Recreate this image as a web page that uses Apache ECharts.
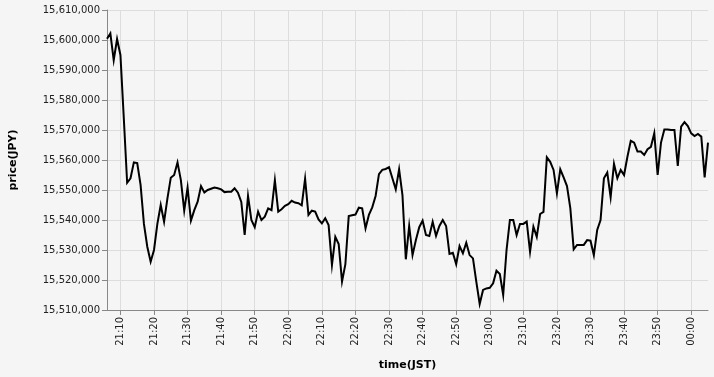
<!DOCTYPE html>
<html>
<head>
<meta charset="utf-8">
<script src="https://cdn.jsdelivr.net/npm/echarts@6/dist/echarts.min.js"></script>
<style>
html,body{margin:0;padding:0;background:#f5f5f5;}
#chart{width:714px;height:377px;}
</style>
</head>
<body>
<div id="chart"></div>
<script>
// one-minute samples starting at 21:06 JST
const startHour = 21;
const startMinute = 6;
const prices = [
15600400,15602200,15593300,15600300,15595000,15574000,15552400,15553900,15559200,15559000,
15551700,15538700,15531100,15526100,15530000,15538700,15545000,15539400,15547200,15554100,
15555000,15559200,15553300,15543100,15550800,15539800,15543300,15546100,15551300,15549200,
15550000,15550400,15550800,15550600,15550200,15549300,15549400,15549400,15550600,15549100,
15546000,15535000,15548000,15540000,15537600,15542800,15540000,15541100,15543900,15543300,
15553300,15542800,15543600,15544700,15545300,15546400,15545800,15545600,15544900,15553800,
15541700,15543100,15542800,15540200,15538900,15540600,15538300,15525000,15534400,15532000,
15519500,15525300,15541300,15541600,15541800,15544100,15543900,15537200,15541700,15544200,
15548000,15555300,15556700,15557000,15557600,15553900,15550200,15556900,15548300,15526900,
15538000,15528300,15533300,15537600,15539800,15535000,15534700,15539400,15534700,15538000,
15540000,15538000,15528700,15529100,15525300,15531300,15528900,15532400,15528300,15527200,
15519400,15512000,15516700,15517200,15517400,15518900,15523100,15522000,15515000,15530000,
15540000,15540000,15535000,15538700,15538700,15539500,15529400,15537800,15534400,15542000,
15542700,15560900,15559400,15556700,15548900,15556900,15554200,15551300,15543900,15530200,
15531700,15531700,15531700,15533300,15533100,15528300,15536700,15540000,15553900,15555800,
15547600,15558700,15553900,15556700,15555000,15561100,15566400,15565800,15562800,15562800,
15561700,15563600,15564400,15568900,15555000,15565800,15570200,15570200,15570000,15570000,
15558000,15571100,15572600,15571300,15568900,15568000,15568700,15567800,15554200,15565800
];
const times = [];
for (let i = 0; i < prices.length; i++) {
  const total = startHour * 60 + startMinute + i;
  const h = Math.floor(total / 60) % 24, m = total % 60;
  times.push(String(h).padStart(2, '0') + ':' + String(m).padStart(2, '0'));
}
const yMin = 15510000, yMax = 15610000, yStep = 10000;

const isTenMinute = (idx, val) => val.endsWith('0');
const chart = echarts.init(document.getElementById('chart'), null, {renderer: 'canvas'});
chart.setOption({
  animation: false,
  backgroundColor: '#f5f5f5',
  textStyle: {fontFamily: 'DejaVu Sans'},
  grid: {left: 107, right: 6, top: 10, bottom: 67, containLabel: false},
  xAxis: {
    type: 'category',
    data: times,
    boundaryGap: false,
    name: 'time(JST)',
    nameLocation: 'middle',
    nameGap: 50,
    nameTextStyle: {fontFamily: 'DejaVu Sans', fontWeight: 'bold', fontSize: 11, color: '#000'},
    axisLine: {lineStyle: {color: '#888', width: 1}},
    axisTick: {show: true, length: 5, interval: isTenMinute, lineStyle: {color: '#888'}},
    axisLabel: {interval: isTenMinute, rotate: 90, margin: 7, fontSize: 10, color: '#222', fontFamily: 'DejaVu Sans'},
    splitLine: {show: true, interval: isTenMinute, lineStyle: {color: '#dddddd', width: 1}}
  },
  yAxis: {
    type: 'value',
    min: yMin, max: yMax, interval: yStep,
    name: 'price(JPY)',
    nameLocation: 'middle',
    nameGap: 88,
    nameTextStyle: {fontFamily: 'DejaVu Sans', fontWeight: 'bold', fontSize: 11, color: '#000'},
    axisLine: {show: true, lineStyle: {color: '#888', width: 1}},
    axisTick: {show: true, length: 5, lineStyle: {color: '#888'}},
    axisLabel: {margin: 7, fontSize: 10, color: '#222', fontFamily: 'DejaVu Sans',
      formatter: v => v.toLocaleString('en-US')},
    splitLine: {show: true, lineStyle: {color: '#dddddd', width: 1}}
  },
  series: [{
    type: 'line',
    data: prices,
    showSymbol: false,
    symbol: 'none',
    lineStyle: {color: '#000', width: 2, join: 'miter'}
  }]
});
</script>
</body>
</html>
